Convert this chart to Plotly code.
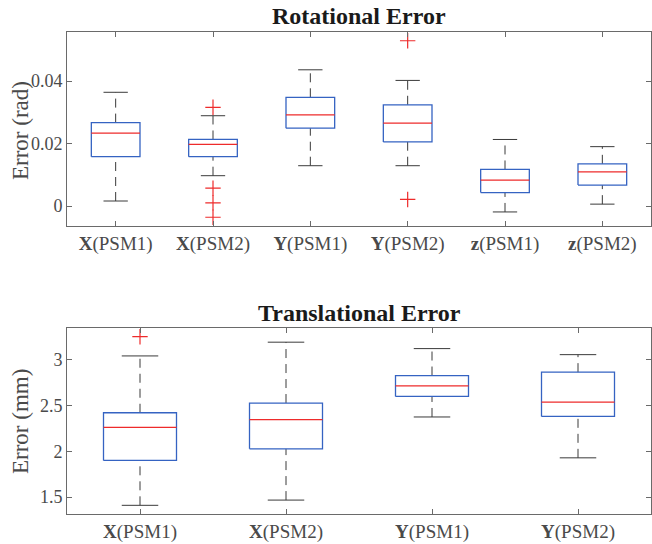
import plotly.graph_objects as go

# ---------------- data ----------------
rot_labels = ["<b>X</b>(PSM1)", "<b>X</b>(PSM2)", "<b>Y</b>(PSM1)", "<b>Y</b>(PSM2)", "<b>z</b>(PSM1)", "<b>z</b>(PSM2)"]
rot_lo  = [0.0016, 0.0097, 0.0129, 0.0129, -0.0019, 0.0006]
rot_q1  = [0.0158, 0.0158, 0.0249, 0.0205, 0.0043, 0.0067]
rot_med = [0.0233, 0.0197, 0.0292, 0.0265, 0.0083, 0.0109]
rot_q3  = [0.0267, 0.0213, 0.0348, 0.0324, 0.0117, 0.0135]
rot_hi  = [0.0364, 0.0289, 0.0436, 0.0402, 0.0213, 0.0190]
rot_out_cat = [2, 2, 2, 2, 4, 4]
rot_out_val = [0.0316, 0.0057, 0.0010, -0.0036, 0.0529, 0.0021]
rot_ticks = [0, 0.02, 0.04]
rot_ticktext = ["0", "0.02", "0.04"]

tr_labels = ["<b>X</b>(PSM1)", "<b>X</b>(PSM2)", "<b>Y</b>(PSM1)", "<b>Y</b>(PSM2)"]
tr_lo  = [1.41, 1.467, 2.374, 1.928]
tr_q1  = [1.90, 2.026, 2.598, 2.380]
tr_med = [2.26, 2.345, 2.714, 2.537]
tr_q3  = [2.42, 2.526, 2.826, 2.863]
tr_hi  = [3.04, 3.190, 3.120, 3.054]
tr_out_cat = [1]
tr_out_val = [3.25]
tr_ticks = [1.5, 2, 2.5, 3]
tr_ticktext = ["1.5", "2", "2.5", "3"]

BOX_HALF = 0.25
CAP_HALF = 0.125
BLUE = "#3563c2"
RED = "#ee2b2b"
WHISK = "#3a3a3a"
AXC = "#6a6a6a"
TXT = "#4a4a4a"
SERIF = "Liberation Serif"

fig = go.Figure()


def add_boxes(lo, q1, med, q3, hi, out_cat, out_val, xa, ya):
    n = len(med)
    pos = list(range(1, n + 1))
    wx, wy, cx, cy, bx, by, mx, my = [], [], [], [], [], [], [], []
    for p, a, b, m, c, d in zip(pos, lo, q1, med, q3, hi):
        wx += [p, p, None, p, p, None]
        wy += [c, d, None, a, b, None]
        cx += [p - CAP_HALF, p + CAP_HALF, None, p - CAP_HALF, p + CAP_HALF, None]
        cy += [d, d, None, a, a, None]
        bx += [p - BOX_HALF, p + BOX_HALF, p + BOX_HALF, p - BOX_HALF, p - BOX_HALF, None]
        by += [b, b, c, c, b, None]
        mx += [p - BOX_HALF, p + BOX_HALF, None]
        my += [m, m, None]
    common = dict(mode="lines", xaxis=xa, yaxis=ya, showlegend=False, hoverinfo="skip")
    fig.add_trace(go.Scatter(x=wx, y=wy, line=dict(color=WHISK, width=1, dash="9px,6px"), **common))
    fig.add_trace(go.Scatter(x=cx, y=cy, line=dict(color=WHISK, width=1), **common))
    fig.add_trace(go.Scatter(x=bx, y=by, line=dict(color=BLUE, width=1.3), **common))
    fig.add_trace(go.Scatter(x=mx, y=my, line=dict(color=RED, width=1.2), **common))
    fig.add_trace(go.Scatter(x=out_cat, y=out_val, mode="markers", xaxis=xa, yaxis=ya,
                             showlegend=False, hoverinfo="skip",
                             marker=dict(symbol="cross-thin", size=11,
                                         line=dict(color=RED, width=1.2), color=RED)))


add_boxes(rot_lo, rot_q1, rot_med, rot_q3, rot_hi, rot_out_cat, rot_out_val, "x", "y")
add_boxes(tr_lo, tr_q1, tr_med, tr_q3, tr_hi, tr_out_cat, tr_out_val, "x2", "y2")

axis_common = dict(showgrid=False, zeroline=False, showline=True, linecolor=AXC, linewidth=1,
                   mirror="ticks", ticks="inside", ticklen=5, tickcolor=AXC, tickwidth=1)
yfont = dict(family=SERIF, size=18, color=TXT)
xfont = dict(family=SERIF, size=19, color=TXT)

W, H = 652, 544
ML, MR = 67, 1
pw = W - ML - MR


def ydom(top_px, bot_px):
    return [1 - bot_px / H, 1 - top_px / H]


fig.update_layout(
    width=W, height=H,
    margin=dict(l=ML, r=MR, t=0, b=0),
    paper_bgcolor="white", plot_bgcolor="white",
    xaxis=dict(domain=[0, 1], range=[0.5, len(rot_labels) + 0.5], tickvals=list(range(1, len(rot_labels) + 1)),
               ticktext=rot_labels, anchor="y", tickfont=xfont, **axis_common),
    yaxis=dict(domain=ydom(32, 226), range=[-0.0064, 0.0557], tickvals=rot_ticks, ticktext=rot_ticktext,
               anchor="x", tickfont=yfont, **axis_common),
    xaxis2=dict(domain=[0, 1], range=[0.5, len(tr_labels) + 0.5], tickvals=list(range(1, len(tr_labels) + 1)),
                ticktext=tr_labels, anchor="y2", tickfont=xfont, **axis_common),
    yaxis2=dict(domain=ydom(327.7, 514.3), range=[1.312, 3.348], tickvals=tr_ticks, ticktext=tr_ticktext,
                anchor="x2", tickfont=yfont, **axis_common),
)

ann_common = dict(xref="paper", yref="paper", showarrow=False)
fig.add_annotation(text="<b>Rotational Error</b>", x=(359 - ML) / pw, y=1 - 16 / H, xanchor="center", yanchor="middle",
                   font=dict(family=SERIF, size=24, color="#1a1a1a"), **ann_common)
fig.add_annotation(text="<b>Translational Error</b>", x=(359 - ML) / pw, y=1 - 313 / H, xanchor="center", yanchor="middle",
                   font=dict(family=SERIF, size=24, color="#1a1a1a"), **ann_common)
fig.add_annotation(text="Error (rad)", x=-(ML - 20) / pw, y=1 - 131 / H, xanchor="center", yanchor="middle",
                   textangle=-90, font=dict(family=SERIF, size=23, color=TXT), **ann_common)
fig.add_annotation(text="Error (mm)", x=-(ML - 20) / pw, y=1 - 422 / H, xanchor="center", yanchor="middle",
                   textangle=-90, font=dict(family=SERIF, size=23, color=TXT), **ann_common)

fig.write_html("out.html", config={"displayModeBar": False},
               post_script="document.body.style.margin='0';document.body.style.overflow='hidden';")
